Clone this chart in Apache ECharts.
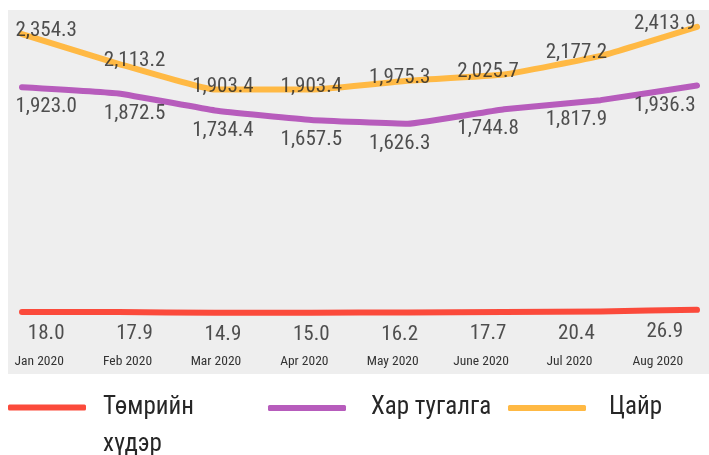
<!DOCTYPE html>
<html>
<head>
<meta charset="utf-8">
<script src="https://cdn.jsdelivr.net/npm/echarts@6/dist/echarts.min.js"></script>
<style>
  html, body { margin: 0; padding: 0; background: #fff; }
  #main { width: 709px; height: 455px; }
</style>
</head>
<body>
<div id="main"></div>
<script>
    var months = ['Jan 2020', 'Feb 2020', 'Mar 2020', 'Apr 2020', 'May 2020', 'June 2020', 'Jul 2020', 'Aug 2020'];
    var ironOre = [18.0, 17.9, 14.9, 15.0, 16.2, 17.7, 20.4, 26.9];
    var lead = [1923.0, 1872.5, 1734.4, 1657.5, 1626.3, 1744.8, 1817.9, 1936.3];
    var zinc = [2354.3, 2113.2, 1903.4, 1903.4, 1975.3, 2025.7, 2177.2, 2413.9];
    var names = ['Төмрийн хүдэр', 'Хар тугалга', 'Цайр'];

    var red = '#fb4a3b', purple = '#b75cbc', yellow = '#ffb944';
    var font = '"Roboto Condensed", "Liberation Sans", sans-serif';

    function fmt(p) {
        return echarts.format.addCommas(p.value.toFixed(1));
    }

    // line series (grid 1) + invisible scatter carrying the value labels (grid 2)
    function lineSeries(name, data, color, yIdx) {
        return {
            name: name, type: 'line', xAxisIndex: 1, yAxisIndex: yIdx,
            data: data, symbol: 'none', smooth: 0.1,
            lineStyle: { width: 6, color: color, cap: 'round', join: 'round' },
            itemStyle: { color: color }
        };
    }
    function labelSeries(data, yIdx, dy) {
        return {
            type: 'scatter', xAxisIndex: 2, yAxisIndex: yIdx, data: data,
            symbolSize: 1, silent: true, z: 5,
            itemStyle: { color: 'rgba(0,0,0,0)' },
            label: {
                show: true, position: 'inside', offset: [0, dy], formatter: fmt,
                fontSize: 21, color: '#262626', fontFamily: font
            }
        };
    }
    function legendItem(name, left, top, gap, formatter) {
        return {
            data: [name], left: left, top: top, padding: 0,
            icon: 'roundRect', itemWidth: 78, itemHeight: 6,
            formatter: formatter,
            textStyle: { fontSize: 25, lineHeight: formatter ? 37 : 30, color: '#262626', fontFamily: font, padding: [0, 0, 0, gap] }
        };
    }

    var myChart = echarts.init(document.getElementById('main'));
    var option = {
        animation: false,
        color: [red, purple, yellow],
        legend: [
            legendItem(names[0], 8, 352, 12, function (n) { return '\n' + n.replace(' ', '\n'); }),
            legendItem(names[1], 268, 393, 20),
            legendItem(names[2], 508, 393, 18)
        ],
        grid: [
            { left: 8, right: 0, top: 10, bottom: 81, show: true, backgroundColor: '#eeeeee', borderWidth: 0 },
            { left: 22, right: 12, top: 10, bottom: 131 },
            { left: 2, right: -8, top: 10, bottom: 131 }
        ],
        xAxis: [
            { gridIndex: 0, type: 'category', data: months, show: false },
            { gridIndex: 1, type: 'category', data: months, boundaryGap: false, show: false },
            {
                gridIndex: 2, type: 'category', data: months, boundaryGap: true,
                axisLine: { show: false }, axisTick: { show: false }, splitLine: { show: false },
                axisLabel: { interval: 0, margin: 31, fontSize: 13.5, color: '#333', fontFamily: font, padding: [0, 14, 0, 0] }
            }
        ],
        yAxis: [
            { gridIndex: 0, type: 'value', min: 0, max: 1, show: false },
            { gridIndex: 1, type: 'value', min: 0, max: 2550, show: false },
            { gridIndex: 1, type: 'value', min: -30, max: 1226, show: false },
            { gridIndex: 2, type: 'value', min: 0, max: 2550, show: false },
            { gridIndex: 2, type: 'value', min: -30, max: 1226, show: false }
        ],
        series: [
            lineSeries(names[0], ironOre, red, 2),
            lineSeries(names[1], lead, purple, 1),
            lineSeries(names[2], zinc, yellow, 1),
            labelSeries(ironOre, 4, 22),
            labelSeries(lead, 3, 20),
            labelSeries(zinc, 3, -3)
        ]
    };
    myChart.setOption(option, true);
</script>
</body>
</html>
